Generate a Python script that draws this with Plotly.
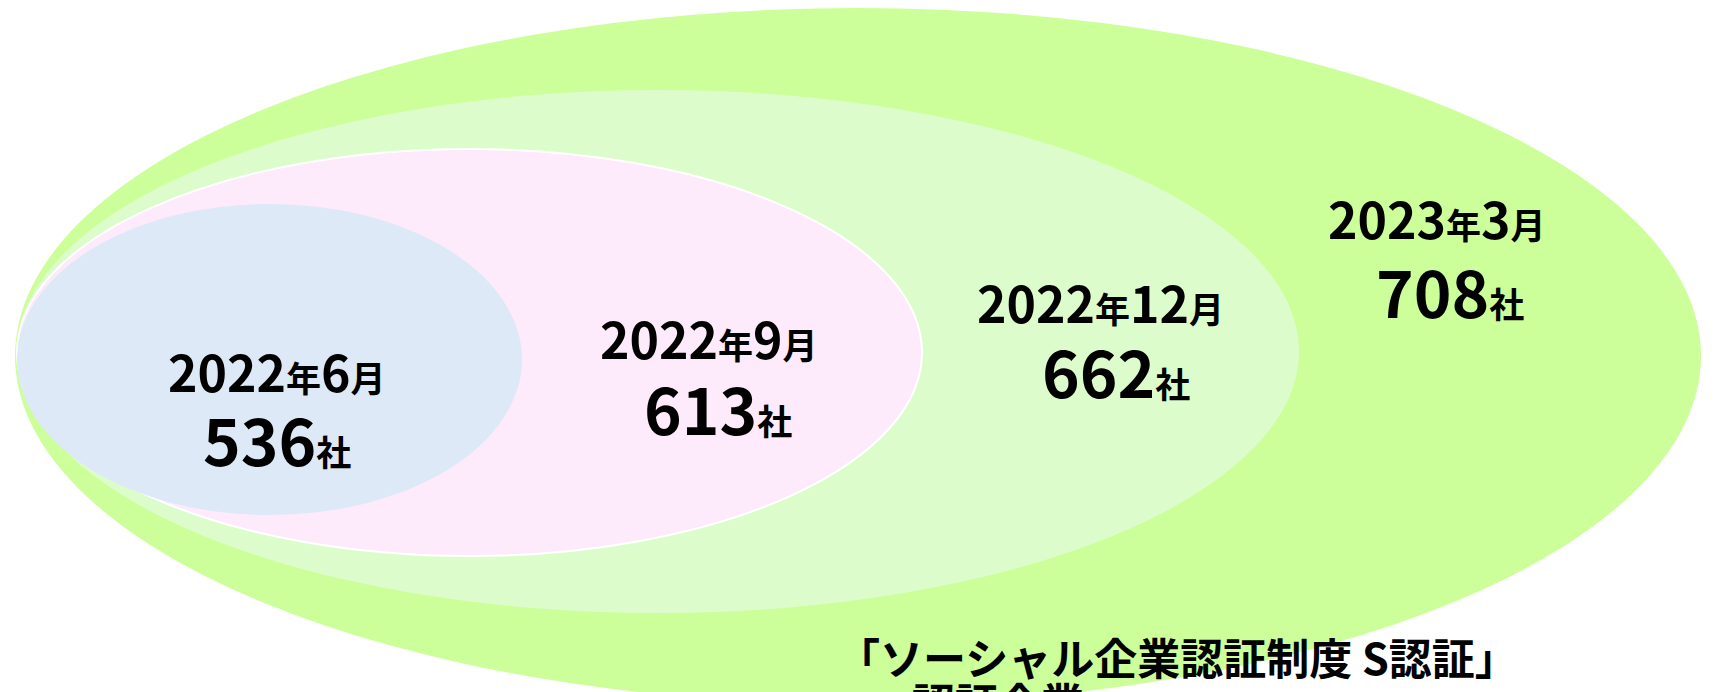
import plotly.graph_objects as go

# Certified companies, cumulative, by period
periods = ["2022年6月", "2022年9月", "2022年12月", "2023年3月"]
counts = [536, 613, 662, 708]

# Ellipse colours, innermost to outermost
fills = ["#DDE9F6", "#FDEAFA", "#DCFDCB", "#CCFF99"]
lines = ["rgba(0,0,0,0)", "#FFFFFF", "rgba(0,0,0,0)", "rgba(0,0,0,0)"]

# Ellipse boxes in page pixels (x0, y0, x1, y1), innermost to outermost
boxes = [
    (17, 204, 522, 515),
    (17, 149, 922, 556),
    (17, 90, 1299, 613),
    (15, 8, 1701, 704),
]

# Label centres (period line, count line)
period_pos = [(277, 370), (709, 337), (1100, 301), (1437, 217)]
count_pos = [(277, 438), (718, 407), (1116, 370), (1450, 290)]

W, H = 1716, 692
FONT = "Noto Sans CJK JP"

fig = go.Figure()

# outermost first so inner ellipses sit on top
shapes = []
for i in reversed(range(len(counts))):
    x0, y0, x1, y1 = boxes[i]
    shapes.append(dict(
        type="circle", xref="x", yref="y",
        x0=x0, x1=x1, y0=y0, y1=y1,
        fillcolor=fills[i],
        line=dict(color=lines[i], width=2 if i == 1 else 0),
        layer="below",
    ))


def period_text(p):
    # "2022年6月" -> digits large, 年/月 smaller
    out = ""
    for ch in p:
        if ch in "年月":
            out += f'<span style="font-size:35px">{ch}</span>'
        else:
            out += ch
    return out


annotations = []
for p, c, pp, cp in zip(periods, counts, period_pos, count_pos):
    annotations.append(dict(
        x=pp[0], y=pp[1], xref="x", yref="y", showarrow=False,
        text=f"<b>{period_text(p)}</b>",
        font=dict(family=FONT, size=50, color="#000000"),
        xanchor="center", yanchor="middle",
    ))
    annotations.append(dict(
        x=cp[0], y=cp[1], xref="x", yref="y", showarrow=False,
        text=f'<b>{c}<span style="font-size:35px">社</span></b>',
        font=dict(family=FONT, size=64, color="#000000"),
        xanchor="center", yanchor="middle",
    ))

annotations.append(dict(
    x=1177, y=656, xref="x", yref="y", showarrow=False,
    text="<b>「ソーシャル企業認証制度 S認証」</b>",
    font=dict(family=FONT, size=43, color="#000000"),
    xanchor="center", yanchor="middle",
))
annotations.append(dict(
    x=910, y=668, xref="x", yref="y", showarrow=False,
    text='<b>認証企業</b><span style="font-size:24px;color:#555555">（各時点での累計社数）</span>',
    font=dict(family=FONT, size=43, color="#000000"),
    xanchor="left", yanchor="top",
))

fig.update_layout(
    width=W, height=H,
    margin=dict(l=0, r=0, t=0, b=0),
    paper_bgcolor="#FFFFFF", plot_bgcolor="#FFFFFF",
    shapes=shapes, annotations=annotations,
    xaxis=dict(range=[0, W], visible=False, fixedrange=True),
    yaxis=dict(range=[H, 0], visible=False, fixedrange=True),
    showlegend=False,
)

fig.write_html("out.html", config={"displayModeBar": False})
